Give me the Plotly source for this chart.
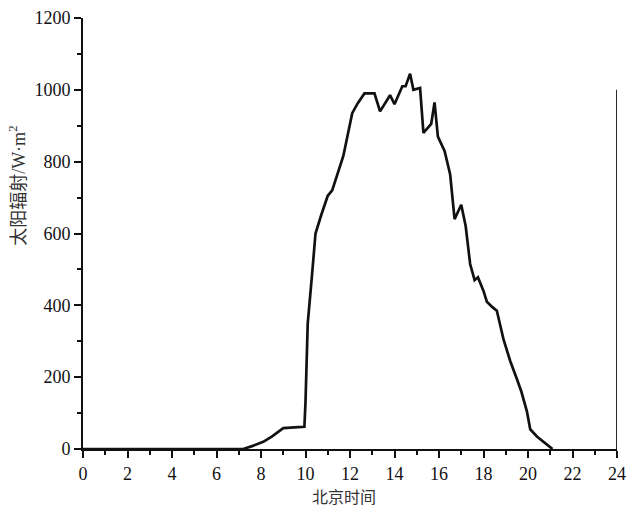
import plotly.graph_objects as go

# Beijing time (hours) and solar radiation (W·m^-2)
hours = [0, 7.2, 7.6, 8.1, 8.5, 9.0, 9.5, 9.95, 10.0, 10.1, 10.3, 10.45, 10.7, 11.0, 11.2,
         11.45, 11.7, 12.1, 12.35, 12.65, 13.1, 13.35, 13.8, 14.0, 14.35, 14.5, 14.7, 14.85,
         15.15, 15.3, 15.65, 15.8, 15.95, 16.25, 16.5, 16.7, 17.0, 17.2, 17.4, 17.6, 17.75,
         18.0, 18.15, 18.4, 18.6, 18.9, 19.2, 19.5, 19.7, 19.95, 20.1, 20.4, 20.85, 21.1]
radiation = [0, 0, 8, 20, 35, 58, 60, 62, 130, 350, 490, 600, 650, 705, 720,
             770, 816, 935, 963, 990, 990, 940, 985, 960, 1010, 1010, 1045, 1000,
             1005, 880, 905, 965, 870, 830, 765, 640, 680, 620, 515, 470, 478,
             440, 410, 395, 385, 305, 245, 195, 160, 105, 55, 35, 12, 0]

x_ticks = list(range(0, 25, 2))
y_ticks = list(range(0, 1201, 200))
x_title = "北京时间"
y_title = ("太阳辐射<span style=\"font-family:'Liberation Serif'\">/W·m</span>"
           "<sup><span style=\"font-family:'Liberation Serif'\">2</span></sup>")

fig = go.Figure()
fig.add_trace(go.Scatter(x=hours, y=radiation, mode="lines",
                         line=dict(color="#111111", width=2.7), showlegend=False))

tick_font = dict(family="Liberation Serif, Times New Roman, serif", size=18, color="#111111")

fig.update_layout(
    width=628, height=508,
    margin=dict(l=83, r=11, t=18, b=59, autoexpand=False),
    paper_bgcolor="white", plot_bgcolor="white",
    xaxis=dict(range=[0, 24], tickvals=x_ticks, ticktext=[str(v) for v in x_ticks],
               automargin=False,
               showgrid=False, zeroline=False, showline=True, linecolor="#111111", linewidth=2,
               ticks="outside", ticklen=7, tickwidth=2, tickcolor="#111111",
               minor=dict(dtick=1, ticks="outside", ticklen=4, tickwidth=2, tickcolor="#111111"),
               tickfont=tick_font, fixedrange=True),
    yaxis=dict(range=[0, 1200], tickvals=y_ticks, ticktext=[str(v) for v in y_ticks],
               automargin=False,
               showgrid=False, zeroline=False, showline=True, linecolor="#111111", linewidth=2,
               ticks="outside", ticklen=7, tickwidth=2, tickcolor="#111111",
               minor=dict(dtick=100, ticks="outside", ticklen=4, tickwidth=2, tickcolor="#111111"),
               tickfont=tick_font, fixedrange=True),
    annotations=[
        dict(text=x_title, xref="paper", yref="paper", x=0.488, y=-0.108,
             xanchor="center", yanchor="middle", showarrow=False,
             font=dict(family="Noto Sans CJK SC, serif", size=16, color="#333333")),
        dict(text=y_title, xref="paper", yref="paper", x=-0.124, y=0.61,
             xanchor="center", yanchor="middle", showarrow=False, textangle=-90,
             font=dict(family="Noto Sans CJK SC, serif", size=18, color="#333333")),
    ],
    shapes=[dict(type="line", xref="x", yref="y", x0=24, x1=24, y0=0, y1=1000,
                 line=dict(color="#111111", width=1.8))],
)

fig.write_html("out.html", config={"displayModeBar": False},
               post_script="document.body.style.margin='0';document.body.style.overflow='hidden';")
